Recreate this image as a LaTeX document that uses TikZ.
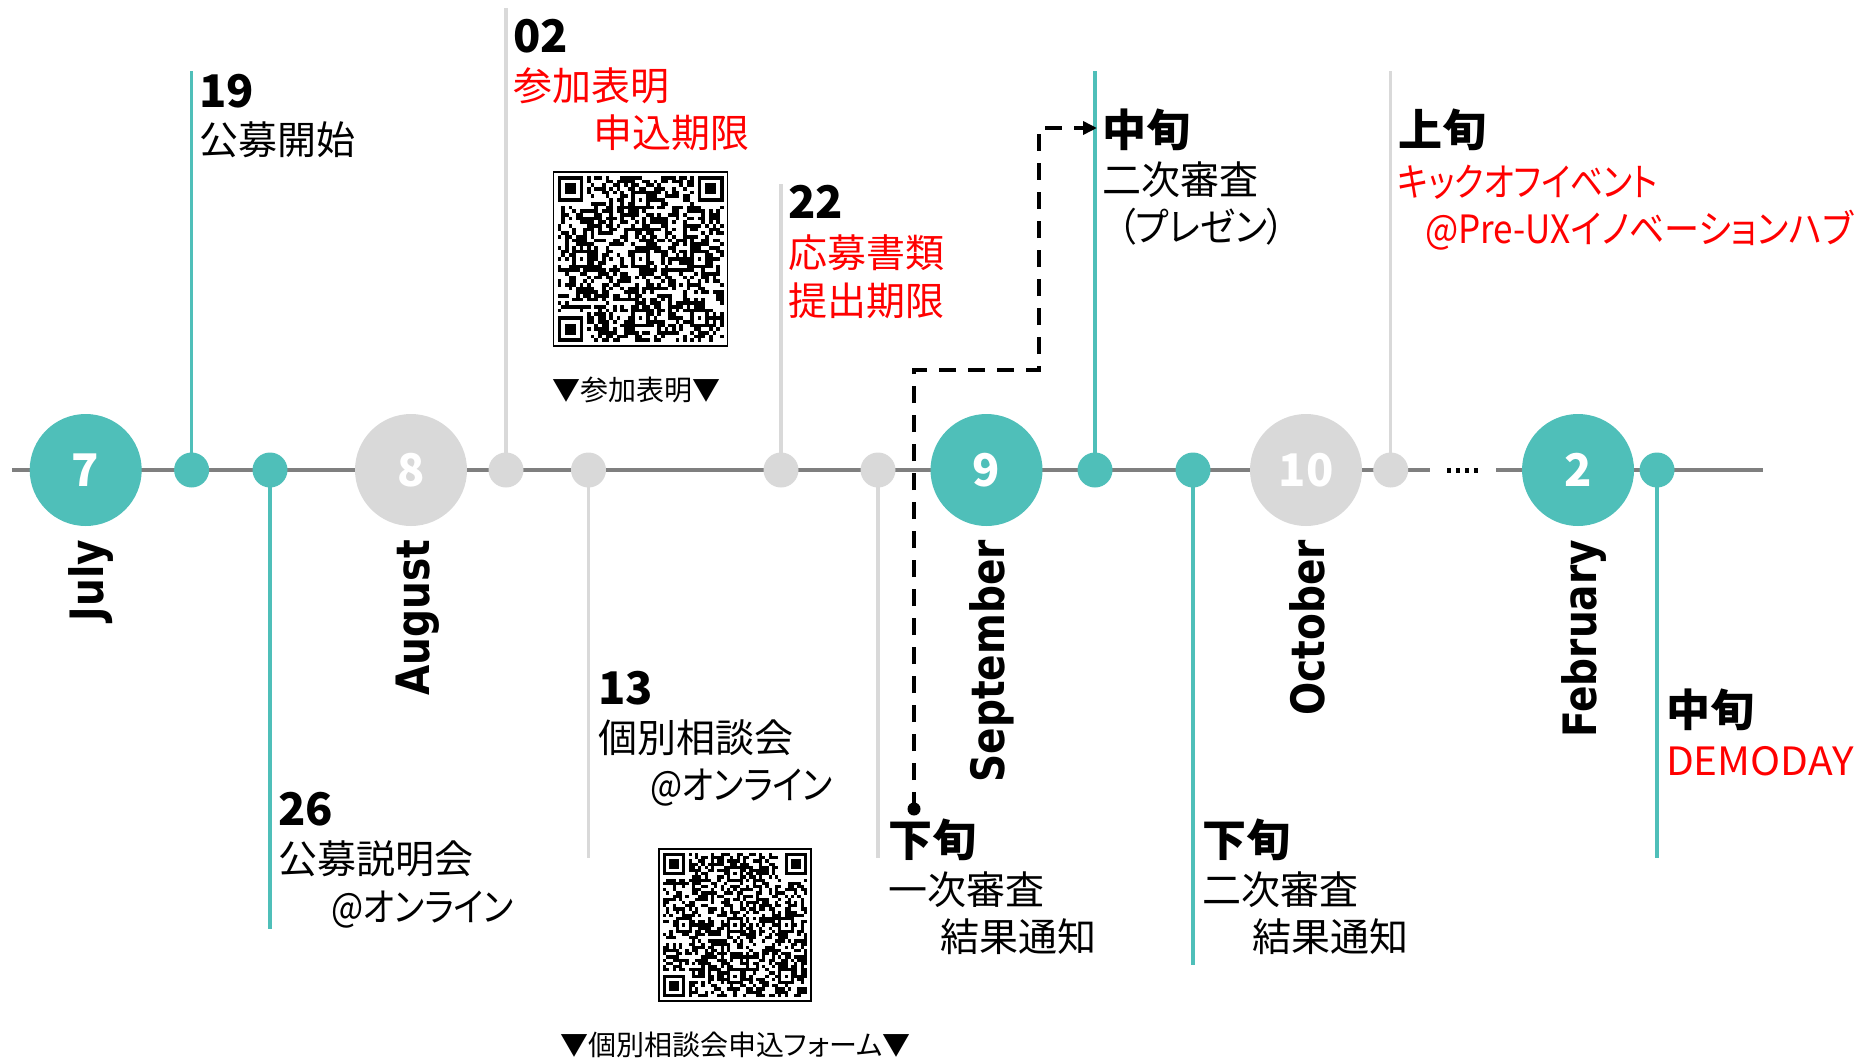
\documentclass[tikz,border=0pt]{standalone}
\usepackage{fontspec}
\usepackage{graphicx}
\usetikzlibrary{arrows.meta}
\newfontfamily\jp[RawFeature=+palt]{Noto Sans CJK JP}
\newfontfamily\monfont[FakeStretch=0.85]{DejaVu Sans Bold}
\definecolor{tealc}{HTML}{4FBFB9}
\definecolor{grayc}{HTML}{D9D9D9}
\definecolor{linec}{HTML}{7F7F7F}
\definecolor{redc}{HTML}{FF0000}
\newcommand\fakeqr[4]{%
 \begin{scope}[shift={(#1,#2)}]
  \draw[line width=0.7pt] (0,0) rectangle (#3,#3);
  \pgfmathsetmacro\fqm{(#3-8)/45}
  \begin{scope}[shift={(4,4)}]
   \pgfmathsetseed{#4}
   \foreach \i in {0,...,44}{\foreach \j in {0,...,44}{%
     \pgfmathrandominteger{\fqr}{0}{1}%
     \ifnum\fqr=1 \fill (\i*\fqm,\j*\fqm) rectangle ++(\fqm,\fqm);\fi}}
   \foreach \a/\b in {0/0,37/0,0/37}{\fill[white] (\a*\fqm,\b*\fqm) rectangle ++(8*\fqm,8*\fqm);}
   \foreach \a/\b in {0/0,38/0,0/38}{%
     \fill (\a*\fqm,\b*\fqm) rectangle ++(7*\fqm,7*\fqm);
     \fill[white] (\a*\fqm+\fqm,\b*\fqm+\fqm) rectangle ++(5*\fqm,5*\fqm);
     \fill (\a*\fqm+2*\fqm,\b*\fqm+2*\fqm) rectangle ++(3*\fqm,3*\fqm);}
   \foreach \a/\b in {22/6,6/22,22/22,38/22,22/38,38/38}{%
     \fill (\a*\fqm-2*\fqm,\b*\fqm-2*\fqm) rectangle ++(5*\fqm,5*\fqm);
     \fill[white] (\a*\fqm-\fqm,\b*\fqm-\fqm) rectangle ++(3*\fqm,3*\fqm);
     \fill (\a*\fqm,\b*\fqm) rectangle ++(\fqm,\fqm);}
  \end{scope}
 \end{scope}}
\newcommand\sq[2]{\scalebox{#1}[1]{#2}}
\tikzset{
 every node/.style={inner sep=0pt,outer sep=0pt},
 body/.style={font=\jp\fontsize{19.5}{23}\selectfont,anchor=base west},
 rbody/.style={body,text=redc},
 num/.style={font=\jp\bfseries\fontsize{22.5}{26}\selectfont,anchor=base west},
 head/.style={font=\jp\bfseries\fontsize{22}{26}\selectfont,anchor=base west},
 capt/.style={font=\jp\fontsize{14}{17}\selectfont,anchor=base west},
 month/.style={font=\monfont\fontsize{23}{27}\selectfont,rotate=90,anchor=base east},
 bigdot/.style={circle,minimum size=56pt,text=white,font=\jp\bfseries\fontsize{22.5}{26}\selectfont},
 smalldot/.style={circle,minimum size=17.5pt},
 mainline/.style={draw=linec,line width=2pt},
 vteal/.style={draw=tealc,line width=1.75pt},
 vgray/.style={draw=grayc,line width=1.75pt},
 darrow/.style={draw=black,line width=1.75pt,dash pattern=on 8.5pt off 6pt,-{Triangle[length=7pt,width=6.5pt]}},
 ellip/.style={fill=black,minimum size=2.25pt}
}
\begin{document}
\begin{tikzpicture}[x=0.5pt,y=-0.5pt]
\useasboundingbox (0,0) rectangle (1866,1059);
% positions
\coordinate (L0) at (12,470);
\coordinate (L1) at (1430,470);
\coordinate (L2) at (1496,470);
\coordinate (L3) at (1763,470);
\coordinate (c7) at (85.7,470);
\coordinate (c8) at (411,470);
\coordinate (c9) at (986.5,470);
\coordinate (c10) at (1306,470);
\coordinate (c2) at (1578,470);
\coordinate (p19) at (191.6,470); \coordinate (t19) at (191.6,71);
\coordinate (p26) at (270,470);   \coordinate (b26) at (270,929);
\coordinate (p02) at (506,470);   \coordinate (t02) at (506,8);
\coordinate (p13) at (588.5,470); \coordinate (b13) at (588.5,857.5);
\coordinate (p22) at (781,470);   \coordinate (t22) at (781,184);
\coordinate (pS) at (878,470);    \coordinate (bS) at (878,857.5);
\coordinate (pSm) at (1095,470);  \coordinate (tSm) at (1095,71);
\coordinate (pOl) at (1193,470);  \coordinate (bOl) at (1193,965);
\coordinate (pNe) at (1390.7,470);\coordinate (tNe) at (1390.7,71);
\coordinate (pF) at (1657,470);   \coordinate (bF) at (1657,857.5);
% main line
\draw[mainline] (L0) -- (L1);
\draw[mainline] (L2) -- (L3);
% vertical lines
\draw[vteal] (p19) -- (t19);
\draw[vteal] (p26) -- (b26);
\draw[vgray] (p02) -- (t02);
\draw[vgray] (p13) -- (b13);
\draw[vgray] (p22) -- (t22);
\draw[vgray] (pS) -- (bS);
\draw[vteal] (pSm) -- (tSm);
\draw[vteal] (pOl) -- (bOl);
\draw[vgray] (pNe) -- (tNe);
\draw[vteal] (pF) -- (bF);
% big circles
\node[bigdot,fill=tealc] (m7) at (c7) {7};
\node[bigdot,fill=grayc] (m8) at (c8) {8};
\node[bigdot,fill=tealc] (m9) at (c9) {9};
\node[bigdot,fill=grayc] (m10) at (c10) {10};
\node[bigdot,fill=tealc] (m2) at (c2) {2};
% small dots
\node[smalldot,fill=tealc] (d19) at (p19) {};
\node[smalldot,fill=tealc] (d26) at (p26) {};
\node[smalldot,fill=grayc] (d02) at (p02) {};
\node[smalldot,fill=grayc] (d13) at (p13) {};
\node[smalldot,fill=grayc] (d22) at (p22) {};
\node[smalldot,fill=grayc] (dS) at (pS) {};
\node[smalldot,fill=tealc] (dSm) at (pSm) {};
\node[smalldot,fill=tealc] (dOl) at (pOl) {};
\node[smalldot,fill=grayc] (dNe) at (pNe) {};
\node[smalldot,fill=tealc] (dF) at (pF) {};
% ellipsis
\node[ellip] (e1) at (1449,470.5) {};
\node[ellip] (e2) at (1458,470.5) {};
\node[ellip] (e3) at (1467,470.5) {};
\node[ellip] (e4) at (1476,470.5) {};
% month labels
\node[month] (mJul) at (103.7,540) {July};
\node[month] (mAug) at (429,540) {August};
\node[month] (mSep) at (1004.5,540) {September};
\node[month] (mOct) at (1324,540) {October};
\node[month] (mFeb) at (1596,540) {February};
% dashed arrow
\node[circle,fill=black,minimum size=6.5pt] (ds) at (914,809) {};
\coordinate (k1) at (914,370);
\coordinate (k2) at (1039,370);
\coordinate (k3) at (1039,128);
\coordinate (tip) at (1097,128);
\draw[darrow] (ds.center) -- (k1) -- (k2) -- (k3) -- (tip);
% texts
\node[num] (n19) at (199,107.5) {19};
\node[body] (l19) at (199,154.5) {公募開始};
\node[num] (n02) at (513,52.5) {02};
\node[rbody] (l02a) at (513,100.5) {参加表明};
\node[rbody] (l02b) at (593,147.5) {申込期限};
\node[capt] (q1cap) at (552,400) {▼参加表明▼};
\node[num] (n22) at (788,219) {22};
\node[rbody] (l22a) at (788,267.5) {応募書類};
\node[rbody] (l22b) at (788,315) {提出期限};
\node[num] (n13) at (598,704) {13};
\node[body] (l13a) at (598,752.5) {個別相談会};
\node[body] (l13b) at (650,799.5) {\sq{0.87}{@オンライン}};
\node[capt] (q2cap) at (560,1055) {▼個別相談会申込フォーム▼};
\node[num] (n26) at (278,825.5) {26};
\node[body] (l26a) at (278,873.5) {公募説明会};
\node[body] (l26b) at (331,921) {\sq{0.87}{@オンライン}};
\node[head] (hSl) at (888,856) {下旬};
\node[body] (lSl1) at (888,904.5) {一次審査};
\node[body] (lSl2) at (940,951.5) {結果通知};
\node[head] (hSm) at (1102,147) {中旬};
\node[body] (lSm1) at (1102,195) {二次審査};
\node[body] (lSm2) at (1118,242) {\sq{0.92}{（プレゼン）}};
\node[head] (hOl) at (1202,856) {下旬};
\node[body] (lOl1) at (1202,904) {二次審査};
\node[body] (lOl2) at (1252,951.5) {結果通知};
\node[head] (hNe) at (1398,147) {上旬};
\node[rbody] (lNe1) at (1398,196.5) {\sq{0.84}{キックオフイベント}};
\node[rbody] (lNe2) at (1425,243) {\sq{0.9}{@Pre-UXイノベーションハブ}};
\node[head] (hF) at (1666,726) {中旬};
\node[rbody] (lF) at (1666,775) {\sq{1.04}{DEMODAY}};
% QR codes
\fakeqr{553.6}{172}{174}{1234}
\fakeqr{659}{849}{152}{4321}
\end{tikzpicture}
\end{document}
